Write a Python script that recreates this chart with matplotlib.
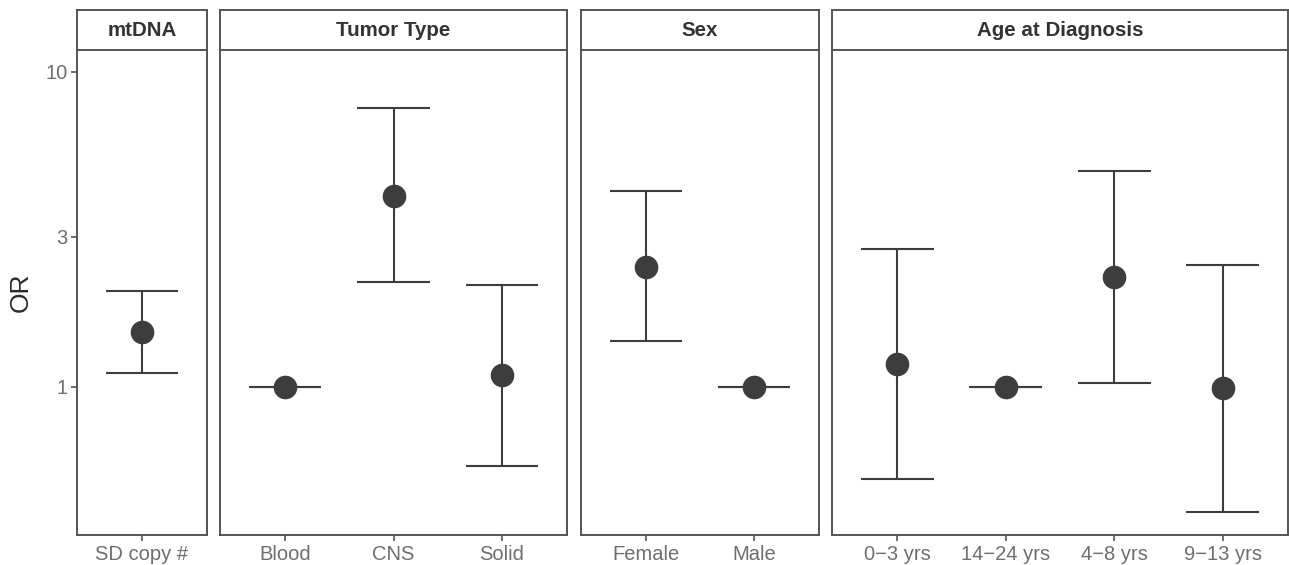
import matplotlib
matplotlib.use("Agg")
import matplotlib.pyplot as plt
import numpy as np

plt.rcParams['font.family'] = ['Liberation Sans', 'DejaVu Sans']

# ---- data ----
facets = ["mtDNA", "Tumor Type", "Sex", "Age at Diagnosis"]
mtdna_cats = ["SD copy #"]
mtdna_or = [1.49]
mtdna_lo = [1.11]
mtdna_hi = [2.01]

tumor_cats = ["Blood", "CNS", "Solid"]
tumor_or = [1.0, 4.03, 1.09]
tumor_lo = [1.0, 2.15, 0.56]
tumor_hi = [1.0, 7.65, 2.11]

sex_cats = ["Female", "Male"]
sex_or = [2.41, 1.0]
sex_lo = [1.40, 1.0]
sex_hi = [4.18, 1.0]

age_cats = ["0\u22123 yrs", "14\u221224 yrs", "4\u22128 yrs", "9\u221213 yrs"]
age_or = [1.18, 1.0, 2.24, 0.99]
age_lo = [0.51, 1.0, 1.03, 0.40]
age_hi = [2.74, 1.0, 4.83, 2.43]

y_ticks = [1, 3, 10]
y_label = "OR"

groups = [
    (mtdna_cats, mtdna_or, mtdna_lo, mtdna_hi),
    (tumor_cats, tumor_or, tumor_lo, tumor_hi),
    (sex_cats, sex_or, sex_lo, sex_hi),
    (age_cats, age_or, age_lo, age_hi),
]

# ---- layout ----
W, H = 1289, 565
fig = plt.figure(figsize=(W / 100, H / 100), dpi=100)
panel_px = [(77, 207), (220, 567), (581, 819), (832, 1288)]
top_px, bot_px, strip_top_px = 50, 535, 10

dark = "#3d3d3d"
border = "#555555"
ticklab = "#6e6e6e"
ylim = (0.339, 11.72)

for i, ((x0, x1), (cats, orv, lo, hi), title) in enumerate(zip(panel_px, groups, facets)):
    ax = fig.add_axes([x0 / W, 1 - bot_px / H, (x1 - x0) / W, (bot_px - top_px) / H])
    n = len(cats)
    xs = np.arange(n)
    ax.set_yscale("log")
    ax.set_ylim(*ylim)
    ax.set_xlim(-0.6, n - 0.4)
    ax.axhline(ylim[0], color="#bbbbbb", lw=1.0, ls=(0, (3, 2)), zorder=1)
    ax.vlines(xs, lo, hi, color=dark, lw=1.5, zorder=2)
    ax.hlines(lo, xs - 0.335, xs + 0.335, color=dark, lw=1.5, zorder=2)
    ax.hlines(hi, xs - 0.335, xs + 0.335, color=dark, lw=1.5, zorder=2)
    ax.plot(xs, orv, "o", color=dark, ms=16, zorder=3)
    ax.set_xticks(xs)
    ax.set_xticklabels(cats, fontsize=14.5, color=ticklab)
    ax.tick_params(axis="x", length=4, width=1.2, color="#555555", pad=3)
    ax.minorticks_off()
    if i == 0:
        ax.set_yticks(y_ticks)
        ax.set_yticklabels([str(t) for t in y_ticks], fontsize=14.5, color=ticklab)
        ax.tick_params(axis="y", length=4, width=1.2, color="#555555", pad=3)
        ax.set_ylabel(y_label, fontsize=19, color="#2a2a2a", labelpad=9)
    else:
        ax.set_yticks([])
    for s in ax.spines.values():
        s.set_color(border)
        s.set_linewidth(1.4)
    # strip
    sax = fig.add_axes([x0 / W, 1 - top_px / H, (x1 - x0) / W, (top_px - strip_top_px) / H])
    sax.set_xticks([])
    sax.set_yticks([])
    for s in sax.spines.values():
        s.set_color(border)
        s.set_linewidth(1.4)
    sax.text(0.5, 0.5, title, ha="center", va="center", fontsize=14.8,
             fontweight="bold", color="#333333", transform=sax.transAxes)

fig.savefig("out.png", dpi=100)
